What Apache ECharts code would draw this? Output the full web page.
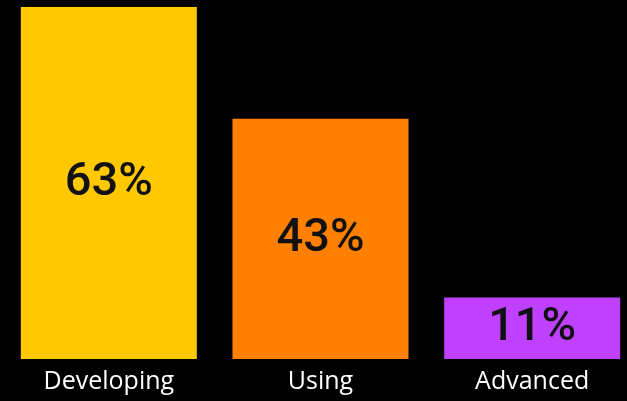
<!DOCTYPE html>
<html>
<head>
<meta charset="utf-8">
<script src="https://cdn.jsdelivr.net/npm/echarts@6/dist/echarts.min.js"></script>
<style>
  html, body { margin: 0; padding: 0; background: #000; }
  #chart { width: 627px; height: 401px; }
</style>
</head>
<body>
<div id="chart"></div>
<script>
// Share of respondents at each stage
const categories = ['Developing', 'Using', 'Advanced'];
const shares = [63, 43, 11];
const barColors = ['#FFC800', '#FF8000', '#C040FF'];

const chart = echarts.init(document.getElementById('chart'));
chart.setOption({
  backgroundColor: '#000000',
  animation: false,
  grid: { left: 3, top: 7, bottom: 42, right: -11, outerBoundsMode: 'none', containLabel: false },
  xAxis: {
    type: 'category',
    data: categories,
    axisLine: { show: false },
    axisTick: { show: false },
    axisLabel: {
      color: '#ffffff',
      fontFamily: '"Open Sans", sans-serif',
      fontSize: 25,
      margin: 10
    }
  },
  yAxis: {
    type: 'value',
    min: 0,
    max: 63,
    show: false,
    splitLine: { show: false }
  },
  series: [{
    type: 'bar',
    barWidth: 176,
    data: shares.map((v, i) => ({ value: v, itemStyle: { color: barColors[i] } })),
    label: {
      show: true,
      position: 'inside',
      formatter: '{c}%',
      color: '#111111',
      fontFamily: 'Roboto, sans-serif',
      fontWeight: 500,
      fontSize: 47
    }
  }]
});
</script>
</body>
</html>
